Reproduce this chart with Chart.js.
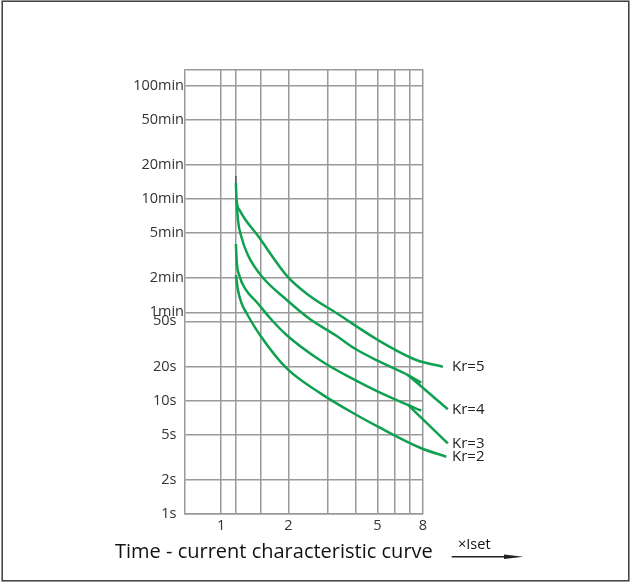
<!DOCTYPE html>
<html>
<head>
<meta charset="utf-8">
<script src="https://cdn.jsdelivr.net/npm/chart.js@4.4.0/dist/chart.umd.min.js"></script>
<style>
html,body{margin:0;padding:0;background:#fff;}
canvas{display:block;}
</style>
</head>
<body>
<canvas id="c" width="631" height="583"></canvas>
<script>
// ---- axis ticks ----
const xGridValues = [1, 1.16, 1.5, 2, 3, 4, 5, 6, 7, 8];
const xTickLabels = {1: '1', 2: '2', 5: '5', 8: '8'};
const yTickValues = [1, 2, 5, 10, 20, 50, 60, 120, 300, 600, 1200, 3000, 6000, 8340];
const yTickLabels = ['1s', '2s', '5s', '10s', '20s', '50s', '1min', '2min', '5min', '10min', '20min', '50min', '100min', ''];

// ---- series (x = multiple of Iset, y = seconds) ----
const kr5X = [1.164, 1.172, 1.207, 1.277, 1.441, 1.982, 2.493, 3.289, 5.03, 7.47, 9.82];
const kr5Y = [830, 587, 480, 399, 294, 124, 83.6, 58.9, 34.2, 22.8, 19.9];

const kr4X = [1.172, 1.189, 1.232, 1.317, 1.521, 1.967, 2.493, 3.289, 3.959, 5.03, 6.85, 7.86];
const kr4Y = [587, 391, 277, 192, 124, 77.1, 52.4, 37.1, 28.8, 22.4, 16.8, 14.4];
const kr4LeaderX = [6.85, 10.33];
const kr4LeaderY = [16.8, 8.38];

const kr3X = [1.164, 1.174, 1.207, 1.291, 1.441, 1.669, 1.961, 2.762, 3.959, 5.03, 6.85, 7.86];
const kr3Y = [240, 167, 126, 94.5, 74.1, 52.4, 37.9, 22.8, 15.2, 12.0, 9.15, 8.15];
const kr3LeaderX = [6.85, 10.33];
const kr3LeaderY = [9.15, 4.2];

const kr2X = [1.164, 1.189, 1.232, 1.300, 1.491, 1.961, 2.762, 3.959, 5.03, 7.86, 10.17];
const kr2Y = [128, 94.5, 72.6, 58.9, 37.9, 19.3, 11.7, 7.62, 5.89, 3.80, 3.20];

const markX = [1.164, 1.164];
const markY = [830, 957];

const seriesLabels = ['Kr=5', 'Kr=4', 'Kr=3', 'Kr=2'];
const titleText = 'Time - current characteristic curve';
const unitText = '×Iset';

const GREEN = '#0fa150';
const FONT = '"Open Sans", sans-serif';
Chart.defaults.font.family = FONT;

function pts(xs, ys) { return xs.map((x, i) => ({x: x, y: ys[i]})); }
function line(data, extra) {
  return Object.assign({
    data: data, borderColor: GREEN, borderWidth: 2.5, pointRadius: 0,
    fill: false, cubicInterpolationMode: 'monotone', clip: false, capBezierPoints: false
  }, extra || {});
}

const decor = {
  id: 'decor',
  afterDraw(chart) {
    const {ctx, chartArea} = chart;
    const y = chart.scales.y;
    ctx.save();
    ctx.fillStyle = '#222';
    ctx.textAlign = 'left';
    ctx.textBaseline = 'middle';
    ctx.font = '15px ' + FONT;
    chart.data.datasets.forEach(ds => {
      if (!ds.krLabel) return;
      const p = ds.data[ds.data.length - 1];
      ctx.fillText(ds.krLabel, chartArea.right + 29, y.getPixelForValue(p.y));
    });
    ctx.fillStyle = '#111';
    ctx.font = '20px ' + FONT;
    ctx.fillText(titleText, 115, 552);
    ctx.font = '14.5px ' + FONT;
    ctx.fillText(unitText, 458, 545);
    // arrow
    ctx.strokeStyle = '#222';
    ctx.fillStyle = '#222';
    ctx.lineWidth = 1.6;
    ctx.beginPath(); ctx.moveTo(451.7, 556.7); ctx.lineTo(508, 556.7); ctx.stroke();
    ctx.beginPath(); ctx.moveTo(523.5, 556.7); ctx.lineTo(504, 554.4); ctx.lineTo(504, 559); ctx.closePath(); ctx.fill();
    // frame
    ctx.strokeStyle = '#3c3c3c';
    ctx.lineWidth = 1.5;
    ctx.strokeRect(2.2, 1.2, 626.6, 579.6);
    ctx.restore();
  }
};

new Chart(document.getElementById('c'), {
  type: 'line',
  data: {
    datasets: [
      line(pts(markX, markY), {borderColor: '#555', borderWidth: 1.5, cubicInterpolationMode: 'default', tension: 0}),
      line(pts(kr5X, kr5Y), {krLabel: seriesLabels[0]}),
      line(pts(kr4X, kr4Y)),
      line(pts(kr4LeaderX, kr4LeaderY), {cubicInterpolationMode: 'default', tension: 0, krLabel: seriesLabels[1]}),
      line(pts(kr3X, kr3Y)),
      line(pts(kr3LeaderX, kr3LeaderY), {cubicInterpolationMode: 'default', tension: 0, krLabel: seriesLabels[2]}),
      line(pts(kr2X, kr2Y), {krLabel: seriesLabels[3]})
    ]
  },
  options: {
    responsive: false,
    animation: false,
    events: [],
    layout: {padding: {top: 69.3, right: 208, bottom: 49, left: 0}},
    plugins: {legend: {display: false}, tooltip: {enabled: false}, title: {display: false}},
    scales: {
      x: {
        type: 'logarithmic',
        position: 'bottom',
        min: 0.689, max: 8,
        bounds: 'data',
        afterBuildTicks: s => { s.ticks = xGridValues.map(v => ({value: v})); },
        afterFit: s => { s.height = 20; },
        grid: {color: '#9a9a9a', lineWidth: 1.5, drawTicks: false},
        border: {color: '#9a9a9a', width: 1.5},
        ticks: {
          autoSkip: false, maxRotation: 0, padding: 3,
          color: '#333', font: {size: 14.5},
          callback: v => xTickLabels[v] || ''
        }
      },
      y: {
        type: 'logarithmic',
        position: 'left',
        min: 1, max: 8340,
        bounds: 'data',
        afterBuildTicks: s => { s.ticks = yTickValues.map(v => ({value: v})); },
        afterFit: s => { s.width = 185; },
        grid: {color: '#9a9a9a', lineWidth: 1.5, drawTicks: false},
        border: {color: '#9a9a9a', width: 1.5},
        ticks: {
          autoSkip: false, padding: 1,
          color: '#333', font: {size: 14.5},
          callback: v => {
            const i = yTickValues.indexOf(v);
            const t = i >= 0 ? yTickLabels[i] : '';
            return /s$/.test(t) ? t + '  ' : t;
          }
        }
      }
    }
  },
  plugins: [decor]
});
</script>
</body>
</html>
